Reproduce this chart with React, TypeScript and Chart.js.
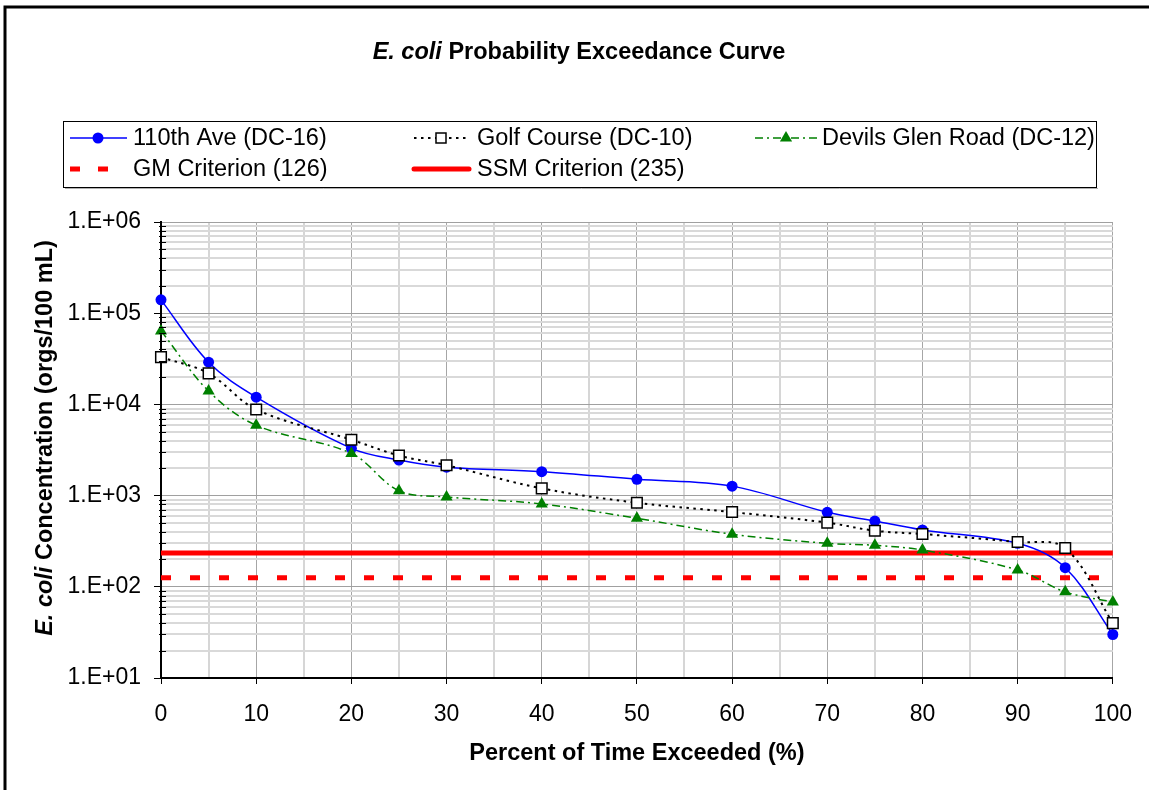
import React, { useEffect, useRef } from 'react';
import { Chart, registerables } from 'chart.js';

Chart.register(...registerables);

// ---- Data ----
const percentExceeded = [0, 5, 10, 20, 25, 30, 40, 50, 60, 70, 75, 80, 90, 95, 100];
const ave110 = [140000, 29000, 12000, 3300, 2450, 2050, 1830, 1510, 1270, 656, 526, 420, 300, 162, 30];
const golfCourse = [33000, 21900, 8800, 4100, 2750, 2150, 1200, 835, 660, 505, 412, 379, 310, 266, 40];
const devilsGlen = [64000, 14000, 5900, 2900, 1130, 966, 810, 564, 377, 300, 285, 253, 153, 88, 68];
const gmCriterion = 126;
const ssmCriterion = 235;
const criterionRange = [0, 100];

const seriesNames = [
  '110th Ave (DC-16)',
  'Golf Course (DC-10)',
  'Devils Glen Road (DC-12)',
  'GM Criterion (126)',
  'SSM Criterion (235)',
];

const xTickValues = [0, 10, 20, 30, 40, 50, 60, 70, 80, 90, 100];
const xTickLabels = ['0', '10', '20', '30', '40', '50', '60', '70', '80', '90', '100'];
const yDecades = [10, 100, 1000, 10000, 100000, 1000000];
const yTickLabels = ['1.E+01', '1.E+02', '1.E+03', '1.E+04', '1.E+05', '1.E+06'];
const yMinorMultipliers = [2, 3, 4, 5, 6, 7, 8, 9];

const titleItalic = 'E. coli';
const titleRest = ' Probability Exceedance Curve';
const yTitleItalic = 'E. coli';
const yTitleRest = ' Concentration (orgs/100 mL)';
const xTitle = 'Percent of Time Exceeded (%)';

// ---- Styles ----
const FONT = '"Liberation Sans", Arial, Helvetica, sans-serif';
const TEXT_SIZE = 23.5;
const TICK_SIZE = 23;
const BLUE = '#0000FF';
const GREEN = '#008000';
const RED = '#FF0000';

const yGridValues: number[] = [];
yDecades.forEach((d, i) => {
  yGridValues.push(d);
  if (i < yDecades.length - 1) yMinorMultipliers.forEach((m) => yGridValues.push(m * d));
});
yGridValues.sort((a, b) => a - b);

const isDecade = (v: number) => Math.abs(Math.log10(v) - Math.round(Math.log10(v))) < 1e-9;

function drawMarker(ctx: CanvasRenderingContext2D, style: string, x: number, y: number) {
  ctx.save();
  if (style === 'circle') {
    ctx.fillStyle = BLUE;
    ctx.beginPath();
    ctx.arc(x, y, 5.5, 0, Math.PI * 2);
    ctx.fill();
  } else if (style === 'rect') {
    ctx.fillStyle = '#fff';
    ctx.strokeStyle = '#000';
    ctx.lineWidth = 1.5;
    ctx.setLineDash([]);
    ctx.fillRect(x - 5, y - 5, 10, 10);
    ctx.strokeRect(x - 5, y - 5, 10, 10);
  } else if (style === 'triangle') {
    ctx.fillStyle = GREEN;
    ctx.beginPath();
    ctx.moveTo(x, y - 7);
    ctx.lineTo(x + 6.1, y + 3.5);
    ctx.lineTo(x - 6.1, y + 3.5);
    ctx.closePath();
    ctx.fill();
  }
  ctx.restore();
}

function drawMixed(ctx: CanvasRenderingContext2D, italic: string, rest: string, cx: number, cy: number, size: number) {
  const fItalic = `italic bold ${size}px ${FONT}`;
  const fBold = `bold ${size}px ${FONT}`;
  ctx.font = fItalic;
  const w1 = ctx.measureText(italic).width;
  ctx.font = fBold;
  const w2 = ctx.measureText(rest).width;
  const start = cx - (w1 + w2) / 2;
  ctx.textBaseline = 'middle';
  ctx.textAlign = 'left';
  ctx.fillStyle = '#000';
  ctx.font = fItalic;
  ctx.fillText(italic, start, cy);
  ctx.font = fBold;
  ctx.fillText(rest, start + w1, cy);
}

const decorPlugin = {
  id: 'decor',
  beforeDraw(chart: any) {
    const ctx = chart.ctx as CanvasRenderingContext2D;
    ctx.save();
    ctx.fillStyle = '#fff';
    ctx.fillRect(0, 0, chart.width, chart.height);
    ctx.restore();
  },
  afterDraw(chart: any) {
    const ctx = chart.ctx as CanvasRenderingContext2D;
    const yScale = chart.scales.y;
    const area = chart.chartArea;
    ctx.save();

    // minor ticks crossing the y axis
    ctx.strokeStyle = '#000';
    ctx.lineWidth = 1;
    yGridValues.forEach((v) => {
      if (isDecade(v)) return;
      const py = Math.round(yScale.getPixelForValue(v)) + 0.5;
      ctx.beginPath();
      ctx.moveTo(area.left - 2, py);
      ctx.lineTo(area.left + 5, py);
      ctx.stroke();
    });

    // outer frame
    ctx.lineWidth = 3;
    ctx.beginPath();
    ctx.moveTo(5, chart.height + 5);
    ctx.lineTo(5, 7);
    ctx.lineTo(chart.width + 5, 7);
    ctx.stroke();

    // title
    drawMixed(ctx, titleItalic, titleRest, 579, 53, TEXT_SIZE);

    // axis titles
    ctx.font = `bold ${TEXT_SIZE}px ${FONT}`;
    ctx.textAlign = 'center';
    ctx.textBaseline = 'middle';
    ctx.fillStyle = '#000';
    ctx.fillText(xTitle, (area.left + area.right) / 2, 754);

    ctx.save();
    ctx.translate(46, 438);
    ctx.rotate(-Math.PI / 2);
    drawMixed(ctx, yTitleItalic, yTitleRest, 0, 0, TEXT_SIZE);
    ctx.restore();

    // legend box
    ctx.lineWidth = 1;
    ctx.strokeStyle = '#000';
    ctx.setLineDash([]);
    ctx.strokeRect(63.5, 121.5, 1033, 66);
    ctx.strokeStyle = '#b0b0b0';
    ctx.beginPath();
    ctx.moveTo(65, 188.5);
    ctx.lineTo(1098, 188.5);
    ctx.stroke();

    const rowY = [138, 169];
    const items = [
      { row: 0, x0: 70, x1: 127, mx: 98, color: BLUE, width: 1.5, dash: [], marker: 'circle', tx: 133 },
      { row: 0, x0: 414, x1: 469, mx: 441, color: '#000', width: 2, dash: [2.5, 4.5], marker: 'rect', tx: 477 },
      { row: 0, x0: 755, x1: 817, mx: 786, color: GREEN, width: 1.5, dash: [8, 4, 2, 4], marker: 'triangle', tx: 822 },
      { row: 1, x0: 70, x1: 108, mx: -1, color: RED, width: 5, dash: [10, 18], marker: '', tx: 133 },
      { row: 1, x0: 414, x1: 469, mx: -1, color: RED, width: 5, dash: [], marker: '', tx: 477 },
    ];
    items.forEach((it, i) => {
      const y = rowY[it.row];
      ctx.save();
      ctx.strokeStyle = it.color;
      ctx.lineWidth = it.width;
      ctx.setLineDash(it.dash);
      ctx.lineCap = i === 4 ? 'round' : 'butt';
      ctx.beginPath();
      ctx.moveTo(it.x0, y);
      ctx.lineTo(it.x1, y);
      ctx.stroke();
      ctx.restore();
      if (it.marker) drawMarker(ctx, it.marker, it.mx, y);
      ctx.font = `${TEXT_SIZE}px ${FONT}`;
      ctx.textAlign = 'left';
      ctx.textBaseline = 'middle';
      ctx.fillStyle = '#000';
      ctx.fillText(seriesNames[i], it.tx, y + 1);
    });

    ctx.restore();
  },
};

export default function App() {
  const canvasRef = useRef<HTMLCanvasElement | null>(null);

  useEffect(() => {
    if (!canvasRef.current) return;
    const pts = (ys: number[]) => percentExceeded.map((x, i) => ({ x, y: ys[i] }));
    const flat = (v: number) => criterionRange.map((x) => ({ x, y: v }));

    const chart = new Chart(canvasRef.current, {
      type: 'line',
      data: {
        datasets: [
          {
            label: seriesNames[0],
            data: pts(ave110),
            borderColor: BLUE,
            backgroundColor: BLUE,
            borderWidth: 1.5,
            pointStyle: 'circle',
            pointRadius: 5.5,
            pointBorderWidth: 0,
            pointBackgroundColor: BLUE,
            tension: 0.35,
            clip: false,
            order: 3,
          },
          {
            label: seriesNames[1],
            data: pts(golfCourse),
            borderColor: '#000',
            backgroundColor: '#fff',
            borderWidth: 2,
            borderDash: [2.5, 4.5],
            pointStyle: 'rect',
            pointRadius: 7.5,
            pointBorderWidth: 1.5,
            pointBorderColor: '#000',
            pointBackgroundColor: '#fff',
            tension: 0.35,
            clip: false,
            order: 2,
          },
          {
            label: seriesNames[2],
            data: pts(devilsGlen),
            borderColor: GREEN,
            backgroundColor: GREEN,
            borderWidth: 1.5,
            borderDash: [8, 4, 2, 4],
            pointStyle: 'triangle',
            pointRadius: 7,
            pointBorderWidth: 0,
            pointBackgroundColor: GREEN,
            tension: 0.35,
            clip: false,
            order: 1,
          },
          {
            label: seriesNames[3],
            data: flat(gmCriterion),
            borderColor: RED,
            borderWidth: 5,
            borderDash: [10, 19],
            pointRadius: 0,
            clip: false,
            order: 10,
          },
          {
            label: seriesNames[4],
            data: flat(ssmCriterion),
            borderColor: RED,
            borderWidth: 5,
            pointRadius: 0,
            clip: false,
            order: 11,
          },
        ] as any,
      },
      options: {
        animation: false,
        responsive: false,
        devicePixelRatio: 1,
        layout: { padding: { left: 0, top: 222, right: 36, bottom: 0 } },
        plugins: {
          legend: { display: false },
          title: { display: false },
          tooltip: { enabled: false },
        },
        scales: {
          x: {
            type: 'linear',
            min: 0,
            max: 100,
            afterFit: (scale: any) => {
              scale.height = 112;
            },
            ticks: {
              stepSize: 5,
              autoSkip: false,
              maxRotation: 0,
              padding: 17,
              color: '#000',
              font: { family: FONT, size: TICK_SIZE },
              callback: (v: any) => {
                const i = xTickValues.indexOf(Number(v));
                return i >= 0 ? xTickLabels[i] : '';
              },
            },
            grid: {
              color: (c: any) => (c.tick && c.tick.value % 10 === 0 ? '#a6a6a6' : '#d6d6d6'),
              lineWidth: (c: any) => (c.tick && c.tick.value % 10 === 0 ? 1 : 2),
              tickColor: (c: any) => (c.tick && c.tick.value % 10 === 0 ? '#000' : 'rgba(0,0,0,0)'),
              tickLength: 6,
              tickWidth: 1,
            },
            border: { color: '#000', width: 2 },
          },
          y: {
            type: 'logarithmic',
            min: 10,
            max: 1000000,
            afterBuildTicks: (scale: any) => {
              scale.ticks = yGridValues.map((v) => ({ value: v, major: isDecade(v) }));
            },
            afterFit: (scale: any) => {
              scale.width = 161;
            },
            ticks: {
              autoSkip: false,
              padding: 13,
              color: '#000',
              font: { family: FONT, size: TICK_SIZE },
              callback: (v: any) => {
                const n = Number(v);
                const i = yDecades.findIndex((d) => Math.abs(d - n) / d < 1e-9);
                return i >= 0 ? yTickLabels[i] : '';
              },
            },
            grid: {
              color: (c: any) => (c.tick && isDecade(c.tick.value) ? '#a0a0a0' : '#d9d9d9'),
              lineWidth: (c: any) => (c.tick && isDecade(c.tick.value) ? 1 : 2),
              tickColor: (c: any) => (c.tick && isDecade(c.tick.value) ? '#000' : 'rgba(0,0,0,0)'),
              tickLength: 7,
              tickWidth: 1,
            },
            border: { color: '#000', width: 2 },
          },
        },
      } as any,
      plugins: [decorPlugin as any],
    });
    return () => chart.destroy();
  }, []);

  return (
    <div style={{ position: 'fixed', left: 0, top: 0, width: 1149, height: 790, background: '#fff' }}>
      <canvas ref={canvasRef} width={1149} height={790} style={{ display: 'block' }} />
    </div>
  );
}
